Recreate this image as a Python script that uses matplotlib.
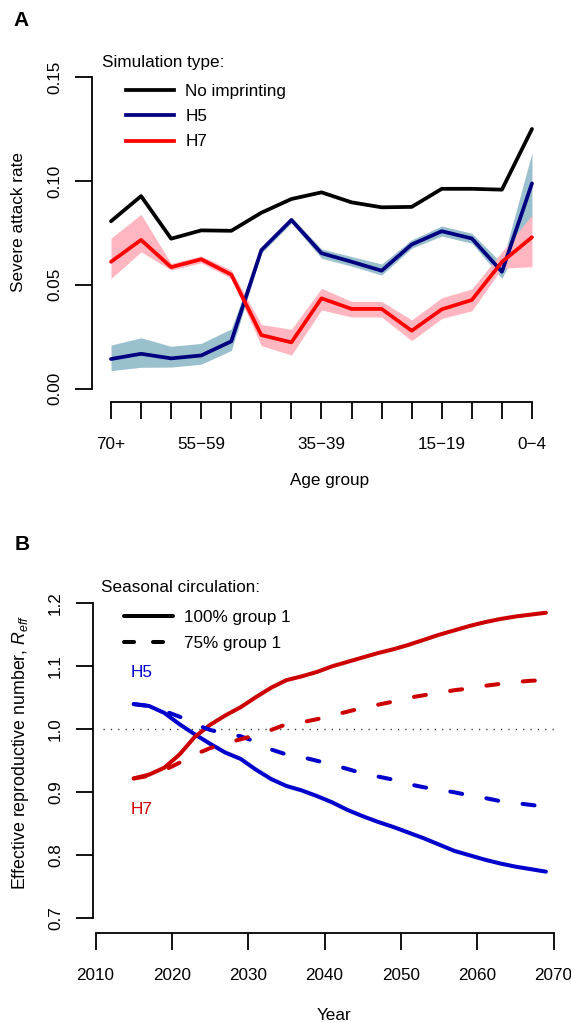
"""
Two-panel figure: severe attack rate by age group (A) and projected
effective reproductive number of H5 / H7 (B).
"""

import matplotlib

matplotlib.use("Agg")
import matplotlib.pyplot as plt
import numpy as np
from matplotlib.lines import Line2D

plt.rcParams["font.family"] = ["Liberation Sans", "DejaVu Sans"]
plt.rcParams["font.size"] = 12.3
plt.rcParams["mathtext.fontset"] = "custom"
plt.rcParams["mathtext.rm"] = "Liberation Sans"
plt.rcParams["mathtext.it"] = "Liberation Sans:italic"

# ---- panel A data -------------------------------------------------------
age_groups = ["70+", "65−69", "60−64", "55−59", "50−54", "45−49", "40−44",
              "35−39", "30−34", "25−29", "20−24", "15−19", "10−14", "5−9", "0−4"]
shown_age_labels = ["70+", "55−59", "35−39", "15−19", "0−4"]

no_imprinting = [0.0806, 0.0927, 0.0722, 0.0762, 0.0760, 0.0847, 0.0913, 0.0945,
                 0.0897, 0.0873, 0.0875, 0.0962, 0.0962, 0.0958, 0.1250]
h5_rate = [0.0143, 0.0168, 0.0146, 0.0160, 0.0228, 0.0667, 0.0812, 0.0652,
           0.0611, 0.0568, 0.0694, 0.0758, 0.0723, 0.0563, 0.0988]
h5_lower = [0.0087, 0.0103, 0.0104, 0.0118, 0.0184, 0.0652, 0.0798, 0.0628,
            0.0590, 0.0547, 0.0676, 0.0735, 0.0700, 0.0531, 0.0820]
h5_upper = [0.0210, 0.0245, 0.0204, 0.0218, 0.0288, 0.0682, 0.0826, 0.0673,
            0.0636, 0.0600, 0.0717, 0.0783, 0.0748, 0.0603, 0.1136]
h7_rate = [0.0611, 0.0716, 0.0585, 0.0623, 0.0549, 0.0258, 0.0223, 0.0435,
           0.0384, 0.0384, 0.0279, 0.0382, 0.0427, 0.0610, 0.0729]
h7_lower = [0.0530, 0.0659, 0.0571, 0.0606, 0.0531, 0.0207, 0.0162, 0.0379,
            0.0345, 0.0345, 0.0231, 0.0338, 0.0375, 0.0580, 0.0587]
h7_upper = [0.0724, 0.0839, 0.0603, 0.0639, 0.0571, 0.0309, 0.0286, 0.0483,
            0.0420, 0.0420, 0.0331, 0.0438, 0.0480, 0.0659, 0.0836]

# ---- panel B data -------------------------------------------------------
years = [2015, 2017, 2019, 2021, 2023, 2025, 2027, 2029, 2031, 2033, 2035, 2037,
         2039, 2041, 2043, 2045, 2047, 2049, 2051, 2053, 2055, 2057, 2059, 2061,
         2063, 2065, 2067, 2069]
h5_full = [1.040, 1.037, 1.026, 1.008, 0.992, 0.977, 0.963, 0.953, 0.936, 0.921,
           0.910, 0.903, 0.894, 0.884, 0.872, 0.862, 0.853, 0.845, 0.836, 0.827,
           0.817, 0.807, 0.800, 0.793, 0.787, 0.782, 0.778, 0.774]
h5_partial = [1.040, 1.037, 1.029, 1.020, 1.008, 0.999, 0.993, 0.989, 0.980, 0.968,
              0.960, 0.956, 0.950, 0.944, 0.937, 0.930, 0.925, 0.920, 0.913, 0.908,
              0.904, 0.900, 0.895, 0.891, 0.886, 0.883, 0.880, 0.877]
h7_full = [0.922, 0.928, 0.939, 0.960, 0.988, 1.007, 1.022, 1.035, 1.051, 1.066,
           1.078, 1.084, 1.091, 1.100, 1.107, 1.114, 1.121, 1.127, 1.134, 1.142,
           1.150, 1.157, 1.164, 1.170, 1.175, 1.179, 1.182, 1.185]
h7_partial = [0.922, 0.926, 0.935, 0.947, 0.960, 0.970, 0.978, 0.984, 0.991, 0.999,
              1.008, 1.011, 1.016, 1.022, 1.028, 1.034, 1.039, 1.044, 1.050, 1.054,
              1.058, 1.062, 1.065, 1.069, 1.072, 1.075, 1.077, 1.078]

W, H = 571, 1023
BLUE_BAND = "#9AC0CD"
PINK_BAND = "#FFB6C1"
NAVY = "#000080"
RED = "#FF0000"
RED3 = "#CD0000"
BLUE3 = "#0000CD"


def axes_px(fig, left, top, right, bottom):
    """Add axes from a pixel box measured from the top-left corner."""
    return fig.add_axes([left / W, 1 - bottom / H, (right - left) / W, (bottom - top) / H])


def style_axes(ax, xbounds, ybounds):
    for side in ("top", "right"):
        ax.spines[side].set_visible(False)
    ax.spines["left"].set_bounds(*ybounds)
    ax.spines["bottom"].set_bounds(*xbounds)
    for side in ("left", "bottom"):
        ax.spines[side].set_linewidth(1.3)
    ax.tick_params(length=12.5, width=1.3, pad=9)
    ax.tick_params(axis="x", pad=12.8)
    for lab in ax.get_yticklabels():
        lab.set_rotation(90)
        lab.set_va("center")


fig = plt.figure(figsize=(W / 100, H / 100), dpi=100)

# ---- A: severe attack rate by age group ---------------------------------
ax_a = axes_px(fig, 92, 60, 552, 402)
x = np.arange(len(age_groups))
ax_a.fill_between(x, h5_lower, h5_upper, color=BLUE_BAND, lw=0)
ax_a.fill_between(x, h7_lower, h7_upper, color=PINK_BAND, lw=0)
line_kw = dict(lw=2.7, solid_capstyle="round", solid_joinstyle="round")
ax_a.plot(x, no_imprinting, color="black", **line_kw)
ax_a.plot(x, h5_rate, color=NAVY, **line_kw)
ax_a.plot(x, h7_rate, color=RED, **line_kw)

ax_a.set_xlim(-0.632, 14.666)
ax_a.set_ylim(-0.0064, 0.1582)
ax_a.set_xticks(x)
ax_a.set_xticklabels([g if g in shown_age_labels else "" for g in age_groups])
ax_a.set_yticks([0.0, 0.05, 0.10, 0.15])
ax_a.set_yticklabels(["0.00", "0.05", "0.10", "0.15"])
style_axes(ax_a, (0, 14), (0.0, 0.15))

fig.text(102.5 / W, 1 - 62 / H, "Simulation type:", ha="left", va="center")
handles_a = [Line2D([], [], color=c, lw=2.7) for c in ("black", NAVY, RED)]
ax_a.legend(handles_a, ["No imprinting", "H5", "H7"], loc="upper left",
            bbox_to_anchor=(125.5 / W, 1 - 84 / H), bbox_transform=fig.transFigure,
            frameon=False, borderpad=0, borderaxespad=0, handlelength=2.84,
            handletextpad=0.67, labelspacing=0.6)

fig.text(21 / W, 1 - 20.5 / H, "A", weight="bold", fontsize=15, ha="center", va="center")
fig.text(18.3 / W, 1 - 221.5 / H, "Severe attack rate", rotation=90,
         ha="center", va="center", rotation_mode="anchor")
fig.text(330 / W, 1 - 480 / H, "Age group", ha="center", va="center")

# ---- B: effective reproductive number over time -------------------------
ax_b = axes_px(fig, 93, 590, 560, 932.7)
ax_b.hlines(1.0, 2011, 2070, color="#333333", lw=1.0, linestyles=(0, (0.9, 4.4)))
dash_kw = dict(lw=2.9, dashes=(3.0, 6.1), dash_capstyle="round")
solid_kw = dict(lw=2.9, solid_capstyle="round", solid_joinstyle="round")
ax_b.plot(years, h5_full, color=BLUE3, **solid_kw)
ax_b.plot(years, h7_full, color=RED3, **solid_kw)
ax_b.plot(years, h5_partial, color=BLUE3, **dash_kw)
ax_b.plot(years, h7_partial, color=RED3, **dash_kw)
ax_b.text(2016, 1.09, "H5", color=BLUE3, ha="center", va="center")
ax_b.text(2016, 0.872, "H7", color=RED3, ha="center", va="center")

ax_b.set_xlim(2009.66, 2070.85)
ax_b.set_ylim(0.6771, 1.2211)
ax_b.set_xticks(np.arange(2010, 2071, 10))
ax_b.set_yticks([0.7, 0.8, 0.9, 1.0, 1.1, 1.2])
ax_b.set_yticklabels(["0.7", "0.8", "0.9", "1.0", "1.1", "1.2"])
style_axes(ax_b, (2010, 2070), (0.7, 1.2))

fig.text(101 / W, 1 - 588 / H, "Seasonal circulation:", ha="left", va="center")
handles_b = [Line2D([], [], color="black", lw=2.9, solid_capstyle="round"),
             Line2D([], [], color="black", lw=2.9, dashes=(2.5, 4.7), dash_capstyle="round")]
ax_b.legend(handles_b, ["100% group 1", "75% group 1"], loc="upper left",
            bbox_to_anchor=(123.6 / W, 1 - 610 / H), bbox_transform=fig.transFigure,
            frameon=False, borderpad=0, borderaxespad=0, handlelength=2.87,
            handletextpad=0.67, labelspacing=0.62)

fig.text(21.7 / W, 1 - 545 / H, "B", weight="bold", fontsize=15, ha="center", va="center")
fig.text(21 / W, 1 - 752 / H, r"Effective reproductive number, $R_{eff}$", rotation=90,
         ha="center", va="center", rotation_mode="anchor", fontsize=12.8)
fig.text(334 / W, 1 - 1015 / H, "Year", ha="center", va="center")

fig.savefig("out.png", dpi=100)
plt.close(fig)
